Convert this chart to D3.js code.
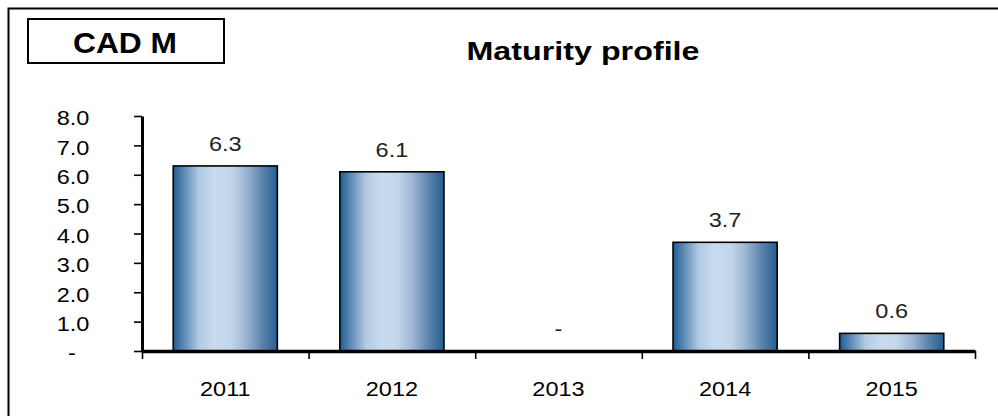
<!DOCTYPE html>
<html>
<head>
<meta charset="utf-8">
<script src="https://cdn.jsdelivr.net/npm/d3@7/dist/d3.min.js"></script>
<style>
  html, body { margin: 0; padding: 0; background: #fff; }
  svg { display: block; font-family: "Liberation Sans", Arial, sans-serif; }
</style>
</head>
<body>
<svg id="chart" width="998" height="416"></svg>
<script>
// Maturity profile data (CAD millions)
const years = ["2011", "2012", "2013", "2014", "2015"];
const amounts = [6.3, 6.1, 0, 3.7, 0.6];
const yTicks = [0, 1, 2, 3, 4, 5, 6, 7, 8];
const unitLabel = "CAD M";
const titleText = "Maturity profile";

const svg = d3.select("#chart");
const W = 998, H = 416;
const plot = { left: 142, right: 975, top: 116, bottom: 351 };
const sx = 1.12; // horizontal stretch applied to label text

// Frame (only top and left edges fall inside the view)
svg.append("rect")
  .attr("x", 8.5).attr("y", 8.5)
  .attr("width", W + 20).attr("height", H + 20)
  .attr("fill", "none").attr("stroke", "#000").attr("stroke-width", 2);

// Unit box
svg.append("rect")
  .attr("x", 28).attr("y", 19).attr("width", 196).attr("height", 44)
  .attr("fill", "#fff").attr("stroke", "#000").attr("stroke-width", 2);
svg.append("text")
  .attr("x", 125).attr("y", 53)
  .attr("text-anchor", "middle")
  .attr("font-size", 29.5).attr("font-weight", "bold")
  .attr("textLength", 104).attr("lengthAdjust", "spacingAndGlyphs")
  .text(unitLabel);

// Title
svg.append("text")
  .attr("x", 583).attr("y", 60)
  .attr("text-anchor", "middle")
  .attr("font-size", 26).attr("font-weight", "bold")
  .attr("textLength", 233).attr("lengthAdjust", "spacingAndGlyphs")
  .text(titleText);

// Scales
const x = d3.scaleBand()
  .domain(years)
  .range([plot.left, plot.right])
  .paddingInner(0.375)
  .paddingOuter(0.1875);
const xEdge = d3.scaleLinear().domain([0, years.length]).range([plot.left, plot.right]);
const y = d3.scaleLinear().domain([0, 8]).range([plot.bottom, plot.top]);

// Bar gradient
const defs = svg.append("defs");
const grad = defs.append("linearGradient").attr("id", "barGrad")
  .attr("x1", "0%").attr("x2", "100%").attr("y1", "0%").attr("y2", "0%");
[
  [0, "#215c90"], [0.08, "#4f7fae"], [0.25, "#b2cae3"], [0.4, "#c9dbee"],
  [0.56, "#c2d5ea"], [0.7, "#9bb5d2"], [0.86, "#5a81ab"], [1, "#235e92"]
].forEach(([o, c]) => grad.append("stop").attr("offset", o).attr("stop-color", c));

// Bars
svg.append("g").selectAll("rect")
  .data(years.map((yr, i) => ({ yr, v: amounts[i] })).filter(d => d.v > 0))
  .join("rect")
  .attr("x", d => x(d.yr))
  .attr("y", d => y(d.v))
  .attr("width", x.bandwidth())
  .attr("height", d => y(0) - y(d.v))
  .attr("fill", "url(#barGrad)")
  .attr("stroke", "#000").attr("stroke-width", 1.6);

// Y axis
const yAxis = svg.append("g")
  .attr("transform", `translate(${plot.left},0)`)
  .call(d3.axisLeft(y).tickValues(yTicks).tickSize(8).tickSizeOuter(0).tickPadding(39)
    .tickFormat(d => d === 0 ? "-" : d3.format(".1f")(d)));
yAxis.select(".domain").attr("stroke", "#000").attr("stroke-width", 3);
yAxis.selectAll(".tick line").attr("stroke", "#000").attr("stroke-width", 1.6);
yAxis.selectAll(".tick text")
  .attr("font-size", 21).attr("fill", "#000")
  .attr("font-family", "'Liberation Sans', Arial, sans-serif")
  .attr("dy", "0.42em")
  .attr("transform", `scale(${sx},1)`)
  .filter(d => d === 0).attr("x", -59);

// X axis: category boundaries
const xAxisEdges = svg.append("g")
  .attr("transform", `translate(0,${plot.bottom})`)
  .call(d3.axisBottom(xEdge).tickValues(d3.range(0, years.length + 1)).tickSize(8).tickSizeOuter(0).tickFormat(""));
xAxisEdges.select(".domain").attr("stroke", "#000").attr("stroke-width", 3.5);
xAxisEdges.selectAll(".tick line").attr("stroke", "#000").attr("stroke-width", 1.6);

// X axis: category labels
const xAxisLabels = svg.append("g")
  .attr("transform", `translate(0,${plot.bottom})`)
  .call(d3.axisBottom(x).tickSize(0).tickPadding(30));
xAxisLabels.select(".domain").remove();
xAxisLabels.selectAll(".tick text")
  .attr("font-size", 21).attr("fill", "#000")
  .attr("font-family", "'Liberation Sans', Arial, sans-serif")
  .attr("transform", `scale(${sx},1)`)
  .attr("x", 0);
xAxisLabels.selectAll(".tick")
  .attr("transform", d => `translate(${x(d) + x.bandwidth() / 2},0)`)
  .select("text").attr("transform", `scale(${sx},1)`);

// Value labels
svg.append("g").selectAll("text")
  .data(years.map((yr, i) => ({ yr, v: amounts[i] })))
  .join("text")
  .attr("transform", d => `translate(${x(d.yr) + x.bandwidth() / 2},${y(d.v) - 15}) scale(${sx},1)`)
  .attr("text-anchor", "middle")
  .attr("font-size", 21).attr("fill", "#222")
  .text(d => d.v === 0 ? "-" : d3.format(".1f")(d.v));
</script>
</body>
</html>
